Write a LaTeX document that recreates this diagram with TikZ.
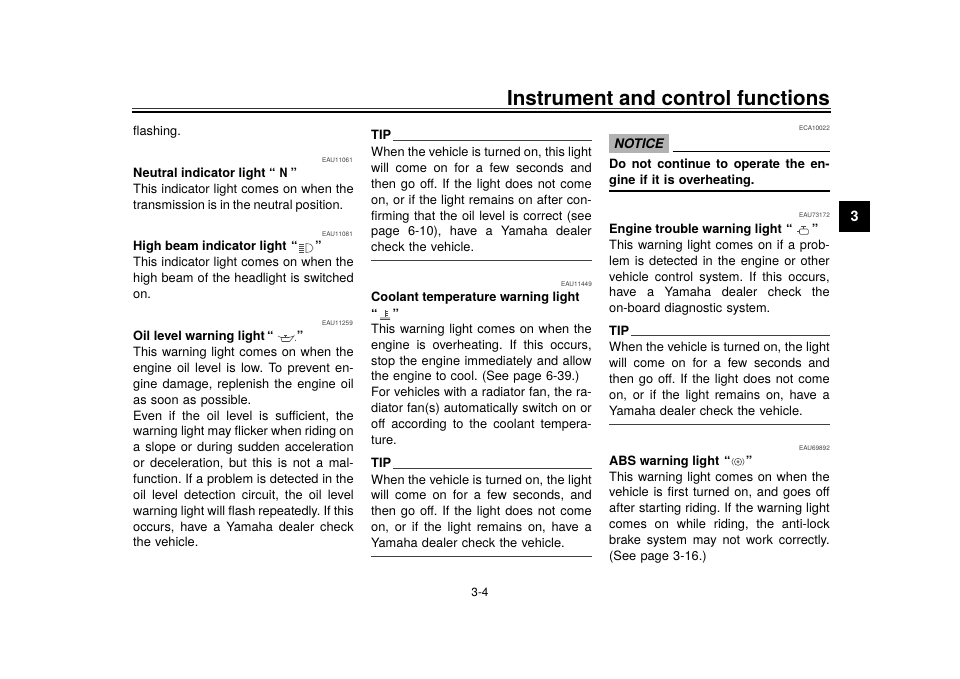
\documentclass[tikz,border=0pt]{standalone}
\usepackage{fontspec}
\setmainfont{TeX Gyre Heros}
\newcommand{\jl}[1]{\makebox[\linewidth][s]{\spaceskip=.278em plus .6em minus .1em\relax #1}}
\tikzset{
  para/.style={anchor=base west,inner sep=0pt,text width=220.5pt,align=left,font=\fontsize{12.8}{15.85}\selectfont\frenchspacing},
  headline/.style={anchor=base west,inner sep=0pt,font=\fontsize{12.8}{15.85}\selectfont\bfseries},
  codeno/.style={anchor=base east,inner sep=0pt,font=\fontsize{6.4}{7}\selectfont,text=black!75},
  tiprule/.style={line width=0.9pt,black!75},
  noticerule/.style={line width=1.2pt,black},
  icon/.style={line width=0.55pt,black!70}
}
\begin{document}
\begin{tikzpicture}[x=1pt,y=-1pt]
    \useasboundingbox (0,0) rectangle (960,679);
    % page head
    \node[anchor=base east,inner sep=0pt,font=\fontsize{20.6}{24}\selectfont\bfseries] (title) at (830,105.5) {Instrument and control functions};
    \draw[line width=0.8pt,black!80] (132,108) -- (831,108);
    \draw[line width=1.6pt,black] (132,112) -- (831,112);
    \node[fill=black,minimum width=30.7pt,minimum height=30.7pt,inner sep=0pt,text=white,font=\fontsize{14.4}{16}\selectfont\bfseries] (tab) at (854.7,216.3) {3};
    \node[anchor=base,inner sep=0pt,font=\fontsize{11.8}{14}\selectfont] (pageno) at (480,596) {3-4};
    % document codes
    \foreach \code/\xa/\ya in {EAU11061/353/162.7,EAU11081/353/236,EAU11259/353/325,EAU11449/592/286.7,ECA10022/830/131,EAU73172/830/217.7,EAU69892/830/450.7}
        \node[codeno] (\code) at (\xa,\ya) {\code};
    % left column
    \node[para] (flashing) at (133,135.7) {flashing.};
    \node[headline] (neutralhead) at (133,177.7) {Neutral indicator light};
    \node[headline,anchor=base,xscale=0.85] (iconN) at (283.5,177.7) {N};
    \node[para] (neutral) at (133,193.3) {\jl{This indicator light comes on when the}\\
        \makebox[210pt][s]{\spaceskip=.278em plus .6em minus .1em\relax transmission is in the neutral position.}};
    \node[headline] (beamhead) at (133,250.7) {High beam indicator light};
    \node[para] (beam) at (133,266.7) {\jl{This indicator light comes on when the}\\
        \jl{high beam of the headlight is switched}\\
        on.};
    \node[headline] (oilhead) at (133,340.7) {Oil level warning light};
    \node[para] (oil) at (133,356.7) {\jl{This warning light comes on when the}\\
        \jl{engine oil level is low. To prevent en-}\\
        \jl{gine damage, replenish the engine oil}\\
        as soon as possible.\\
        \jl{Even if the oil level is sufficient, the}\\
        \jl{warning light may flicker when riding on}\\
        \jl{a slope or during sudden acceleration}\\
        \jl{or deceleration, but this is not a mal-}\\
        \jl{function. If a problem is detected in the}\\
        \jl{oil level detection circuit, the oil level}\\
        \jl{warning light will flash repeatedly. If this}\\
        \jl{occurs, have a Yamaha dealer check}\\
        the vehicle.};
    % middle column
    \node[headline] (tipa) at (371,140) {TIP};
    \node[para] (tipatext) at (371,156.7) {\jl{When the vehicle is turned on, this light}\\
        \jl{will come on for a few seconds and}\\
        \jl{then go off. If the light does not come}\\
        \jl{on, or if the light remains on after con-}\\
        \jl{firming that the oil level is correct (see}\\
        \jl{page 6-10), have a Yamaha dealer}\\
        check the vehicle.};
    \node[headline] (coolhead) at (371,301.7) {Coolant temperature warning light};
    \node[para] (cool) at (371,333.3) {\jl{This warning light comes on when the}\\
        \jl{engine is overheating. If this occurs,}\\
        \jl{stop the engine immediately and allow}\\
        the engine to cool. (See page 6-39.)\\
        \jl{For vehicles with a radiator fan, the ra-}\\
        \jl{diator fan(s) automatically switch on or}\\
        \jl{off according to the coolant tempera-}\\
        ture.};
    \node[headline] (tipb) at (371,467.5) {TIP};
    \node[para] (tipbtext) at (371,484) {\jl{When the vehicle is turned on, the light}\\
        \jl{will come on for a few seconds, and}\\
        \jl{then go off. If the light does not come}\\
        \jl{on, or if the light remains on, have a}\\
        Yamaha dealer check the vehicle.};
    % right column
    \node[fill=black!30,minimum width=59.4pt,minimum height=19.3pt,inner sep=0pt] (noticebox) at (639,143.6) {};
    \node[headline,font=\fontsize{13.2}{15.85}\selectfont\bfseries\itshape,anchor=base] (notice) at (639,148.3) {NOTICE};
    \node[para,font=\fontsize{12.8}{15.85}\selectfont\bfseries\frenchspacing] (noticetext) at (609,168.3) {\jl{Do not continue to operate the en-}\\
        gine if it is overheating.};
    \node[headline] (enginehead) at (609,233.3) {Engine trouble warning light};
    \node[para] (engine) at (609,249.3) {\jl{This warning light comes on if a prob-}\\
        \jl{lem is detected in the engine or other}\\
        \jl{vehicle control system. If this occurs,}\\
        \jl{have a Yamaha dealer check the}\\
        on-board diagnostic system.};
    \node[headline] (tipc) at (609,335) {TIP};
    \node[para] (tipctext) at (609,351.7) {\jl{When the vehicle is turned on, the light}\\
        \jl{will come on for a few seconds and}\\
        \jl{then go off. If the light does not come}\\
        \jl{on, or if the light remains on, have a}\\
        Yamaha dealer check the vehicle.};
    \node[headline] (abshead) at (609,465.7) {ABS warning light};
    \node[para] (abs) at (609,481) {\jl{This warning light comes on when the}\\
        \jl{vehicle is first turned on, and goes off}\\
        \jl{after starting riding. If the warning light}\\
        \jl{comes on while riding, the anti-lock}\\
        \jl{brake system may not work correctly.}\\
        (See page 3-16.)};
    % quotes round the icons
    \foreach \nm/\xa/\xb/\ya in {neutral/269/290.5/177.7,beam/291/315/250.7,oil/267/296.7/340.7,cool/371/392.5/318,engine/786/811.7/233.3,abs/724/745.7/465.7}{
        \node[headline] (\nm open) at (\xa,\ya) {“};
        \node[headline] (\nm close) at (\xb,\ya) {”};
    }
    % rules
    \coordinate (tipaend) at (592,140);
    \coordinate (tipbend) at (592,468);
    \coordinate (tipcend) at (830,335);
    \draw[tiprule] (tipa.base east)++(2,0) -- (tipaend);
    \draw[tiprule] (tipb.base east)++(2,0.5) -- (tipbend);
    \draw[tiprule] (tipc.base east)++(2,0) -- (tipcend);
    \draw[tiprule] (371,260.7) -- (592,260.7);
    \draw[tiprule] (371,556.7) -- (592,556.7);
    \draw[tiprule] (609,424.3) -- (830,424.3);
    \draw[noticerule] (672.7,151.7) -- (830,151.7);
    \draw[noticerule] (609,191) -- (830,191);
    % high beam
    \foreach \ya in {244,246,248,250,252}
        \draw[icon] (299,\ya) -- (304,\ya);
    \draw[icon] (306,243.5) .. controls (315.5,243.5) and (315.5,252.5) .. (306,252.5) -- cycle;
    % oil can
    \draw[icon] (278,336) -- (281,337.5) -- (289,337.5) -- (294,336) -- (289.5,341.5) -- (282,341.5) -- (281,337.5);
    \draw[icon] (284,335.5) -- (287,335.5) (285.5,335.5) -- (285.5,337.5);
    \draw[icon] (295,339.5) -- (295,341);
    % coolant
    \draw[icon,line width=0.9pt] (385,310) -- (385,317);
    \draw[icon] (385,311) -- (388,311) (385,313) -- (388,313) (385,315) -- (388,315);
    \draw[icon] (380,318) .. controls (382,316.5) and (383,319.5) .. (385,318) .. controls (387,316.5) and (388,319.5) .. (390,318);
    \draw[icon] (380,319.5) .. controls (382,318) and (383,321) .. (385,319.5) .. controls (387,318) and (388,321) .. (390,319.5);
    % engine
    \draw[icon,rounded corners=1pt] (799.5,229) rectangle (808.3,234.3);
    \draw[icon] (801,226.5) -- (806,226.5) (803.5,226.5) -- (803.5,229) (796.8,231) -- (799.5,231);
    % abs
    \draw[icon] (738,461.8) circle (3.6);
    \fill[black!55] (738,461.8) circle (1.7);
    \draw[icon] (733.4,458.3) .. controls (731.4,460.3) and (731.4,463.3) .. (733.4,465.3);
    \draw[icon] (742.6,458.3) .. controls (744.6,460.3) and (744.6,463.3) .. (742.6,465.3);
\end{tikzpicture}
\end{document}
